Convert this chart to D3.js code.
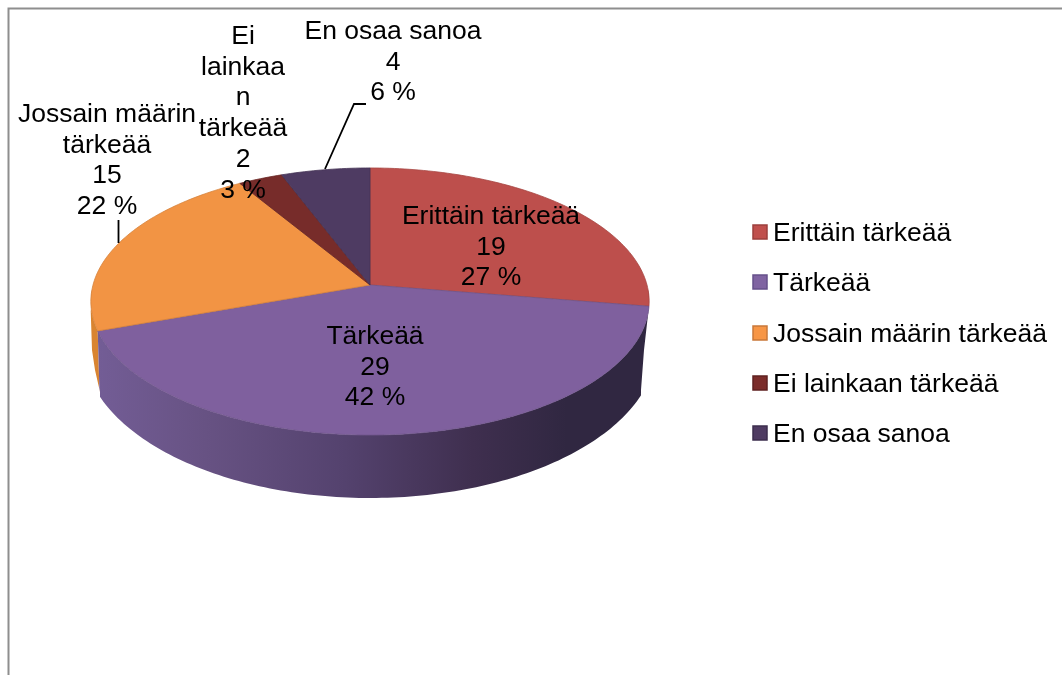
<!DOCTYPE html>
<html><head><meta charset="utf-8">
<script src="https://cdnjs.cloudflare.com/ajax/libs/d3/7.8.5/d3.min.js"></script>
<style>html,body{margin:0;padding:0;background:#fff}svg{display:block;filter:blur(0.45px)}text{font-family:"Liberation Sans",Arial,sans-serif;fill:#000}</style>
</head><body><svg id="c" width="1062" height="675"></svg>
<script>
const categories = ["Erittäin tärkeää","Tärkeää","Jossain määrin tärkeää","Ei lainkaan tärkeää","En osaa sanoa"];
const values = [19,29,15,2,4];
const percents = [27,42,22,3,6];
const labelWraps = [["Erittäin tärkeää"],["Tärkeää"],["Jossain määrin","tärkeää"],["Ei","lainkaa","n","tärkeää"],["En osaa sanoa"]];
const colors = ["#bd4f4c","#7f609e","#f29444","#772c2a","#4e3b62"];
const legendColors = ["#c0504d","#8064a2","#f79646","#7b2c2a","#4f3b62"];
const legendBorders = ["#9c3f3c","#66508a","#c9783a","#5f2120","#3d2e4e"];
const wallColors = ["#8f3a38","url(#wallPurple)","#d98430","#5a2120","#3a2c4a"];
const labelAnchors = [[491,224],[375,344],[107,122],[243,44],[393,39]];
const legendRows = [232,282,333,383,433];

const svg = d3.select("#c");
const defs = svg.append("defs");
const grad = defs.append("linearGradient").attr("id","wallPurple")
  .attr("gradientUnits","userSpaceOnUse").attr("x1",95).attr("x2",650).attr("y1",0).attr("y2",0);
[[0,"#735d96"],[0.2,"#675283"],[0.45,"#54426e"],[0.68,"#3f2f4f"],[0.85,"#302741"],[1,"#302741"]]
  .forEach(s=>grad.append("stop").attr("offset",s[0]).attr("stop-color",s[1]));
const line = d3.line();
// silhouette of the drum's sides: the walls narrow slightly going down
defs.append("clipPath").attr("id","drum").append("path")
  .attr("d",line([[90,290],[92,350],[95,370],[100,392],[100,510],[640,510],[641,390],[644,350],[649,306],[650,290]])+"Z");

// frame
svg.append("path").attr("d","M8.5,675V8.5H1062").attr("fill","none").attr("stroke","#8e8e8e").attr("stroke-width",2);

// perspective disc projection
const upperDisc = {cx:370, cy:285, a:277, b:131.5, k:0.1236};
const lowerDisc = {cx:370, cy:345, a:287, b:153, k:0};
const proj = (d,t)=>{const u=Math.sin(t),v=Math.cos(t),w=1+d.k*v;return [d.cx+d.a*u/w,d.cy-d.b*v/w];};
const samples = (s,e)=>{const n=Math.max(4,Math.ceil((e-s)/0.02));return d3.range(n+1).map(i=>s+(e-s)*i/n);};
const arcs = d3.pie().sort(null).value(d=>d)(values);

// side walls, then top faces
const walls = svg.append("g").attr("clip-path","url(#drum)");
[2,0,3,4,1].forEach(i=>{
  const a=arcs[i];
  const ts=samples(a.startAngle,a.endAngle);
  const pts=ts.map(t=>proj(upperDisc,t)).concat(ts.slice().reverse().map(t=>proj(lowerDisc,t)));
  walls.append("path").attr("d",line(pts)+"Z").attr("fill",wallColors[i]);
});
const g = svg.append("g");
arcs.forEach((a,i)=>{
  const pts=[[upperDisc.cx,upperDisc.cy]].concat(samples(a.startAngle,a.endAngle).map(t=>proj(upperDisc,t)));
  g.append("path").attr("d",line(pts)+"Z").attr("fill",colors[i])
    .attr("stroke",d3.color(colors[i]).darker(0.35)).attr("stroke-width",0.8).attr("stroke-linejoin","round");
});

// leader lines
const leaders=[[[325,169],[354,104],[366,104]],[[118.5,220],[118.5,243]]];
leaders.forEach(l=>svg.append("path").attr("d",line(l)).attr("fill","none").attr("stroke","#000").attr("stroke-width",1.8));

// data labels
const fs=26.5, lh=30.7;
categories.forEach((c,i)=>{
  const lines=labelWraps[i].concat([String(values[i]),percents[i]+" %"]);
  const t=svg.append("text").attr("text-anchor","middle").attr("font-size",fs);
  lines.forEach((s,j)=>t.append("tspan").attr("x",labelAnchors[i][0]).attr("y",labelAnchors[i][1]+j*lh).text(s));
});

// legend
categories.forEach((c,i)=>{
  svg.append("rect").attr("x",753).attr("y",legendRows[i]-7).attr("width",14).attr("height",14)
    .attr("fill",legendColors[i]).attr("stroke",legendBorders[i]).attr("stroke-width",1.5);
  svg.append("text").attr("x",773).attr("y",legendRows[i]+9).attr("font-size",fs).text(c);
});
</script></body></html>
